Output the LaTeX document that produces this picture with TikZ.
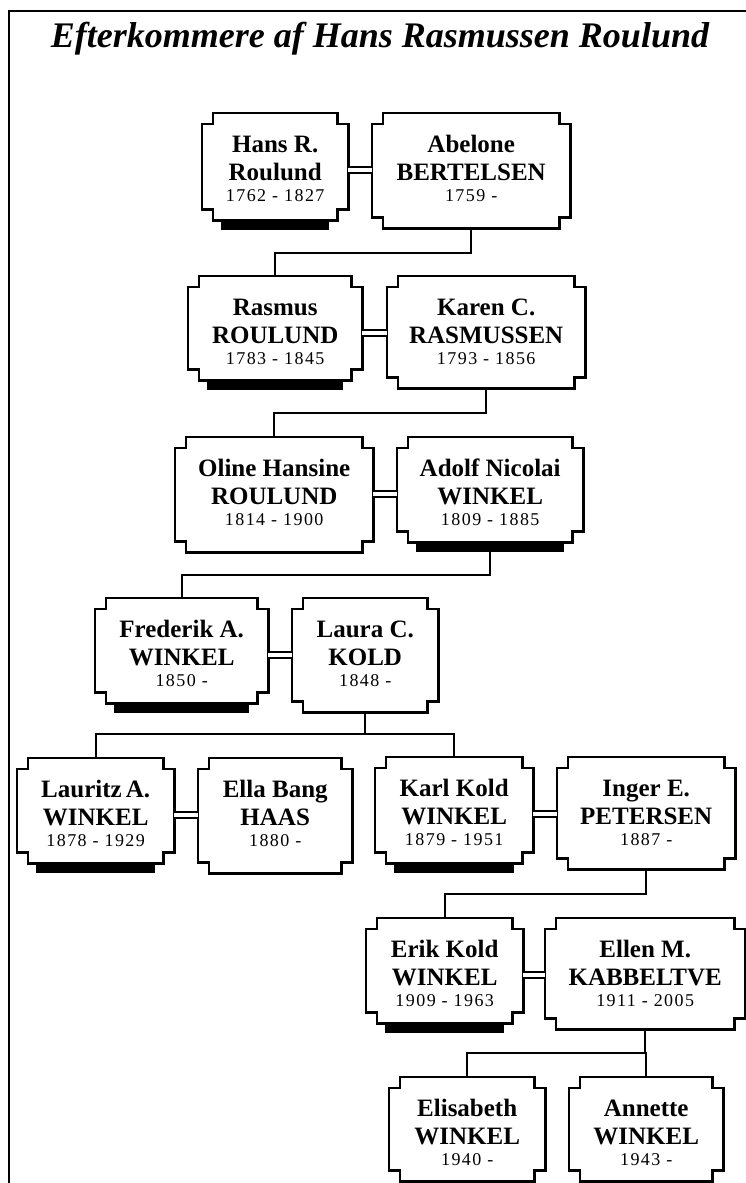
\documentclass[tikz,border=0pt]{standalone}
\usepackage{fontspec}
\usepackage{tikz}
\usetikzlibrary{calc}
\setmainfont{Liberation Serif}
\newfontfamily\yrfam[LetterSpace=8]{Liberation Serif}
\newcommand{\nm}{\fontsize{25}{28}\selectfont\bfseries}
\newcommand{\yr}{\yrfam\mdseries\fontsize{18}{21}\selectfont}

\begin{document}
\begin{tikzpicture}[x=1pt,y=-1pt,
	person/.style={shape=rectangle,inner sep=0pt,anchor=north west,align=center,font=\nm,text height=88pt},
	outline/.style={line width=2.2pt,line join=miter},
	link/.style={line width=2pt},
	wed/.style={double,double distance=4.2pt,line width=1.6pt}]
	\useasboundingbox (0,0) rectangle (745,1183);

	% frame and title
	\draw[line width=2pt] (752,11) -- (9,11) -- (9,1190);
	\node[anchor=base,font=\bfseries\itshape\fontsize{36}{40}\selectfont] (title) at (380,47) {Efterkommere af Hans Rasmussen Roulund};

	% persons
	\node[person,minimum width=146pt,text depth=19pt] (hans) at (202,113) {Hans R.\\ Roulund\\[-7pt] \yr 1762 - 1827};
	\node[person,minimum width=198pt,text depth=27pt] (abelone) at (372,113) {Abelone\\ BERTELSEN\\[-7pt] \yr 1759 -};
	\node[person,minimum width=174pt,text depth=16pt] (rasmus) at (188,276) {Rasmus\\ ROULUND\\[-7pt] \yr 1783 - 1845};
	\node[person,minimum width=198pt,text depth=24pt] (karen) at (387,276) {Karen C.\\ RASMUSSEN\\[-7pt] \yr 1793 - 1856};
	\node[person,minimum width=198pt,text depth=27pt] (oline) at (175,437) {Oline Hansine\\ ROULUND\\[-7pt] \yr 1814 - 1900};
	\node[person,minimum width=186pt,text depth=17pt] (adolf) at (397,437) {Adolf Nicolai\\ WINKEL\\[-7pt] \yr 1809 - 1885};
	\node[person,minimum width=173pt,text depth=17pt] (frederik) at (95,598) {Frederik A.\\ WINKEL\\[-7pt] \yr 1850 -};
	\node[person,minimum width=146pt,text depth=26pt] (laura) at (292,598) {Laura C.\\ KOLD\\[-7pt] \yr 1848 -};
	\node[person,minimum width=157pt,text depth=17pt] (lauritz) at (17,758) {Lauritz\,A.\\ WINKEL\\[-7pt] \yr 1878 - 1929};
	\node[person,minimum width=154pt,text depth=27pt] (ella) at (198,758) {Ella Bang\\ HAAS\\[-7pt] \yr 1880 -};
	\node[person,minimum width=158pt,text depth=18pt] (karl) at (375,757) {Karl Kold\\ WINKEL\\[-7pt] \yr 1879 - 1951};
	\node[person,minimum width=178pt,text depth=24pt] (inger) at (557,757) {Inger E.\\ PETERSEN\\[-7pt] \yr 1887 -};
	\node[person,minimum width=157pt,text depth=17pt] (erik) at (366,918) {Erik Kold\\ WINKEL\\[-7pt] \yr 1909 - 1963};
	\node[person,minimum width=200pt,text depth=23pt] (ellen) at (545,918) {Ellen M.\\ KABBELTVE\\[-7pt] \yr 1911 - 2005};
	\node[person,minimum width=156pt,text depth=16pt] (elisabeth) at (389,1077) {Elisabeth\\ WINKEL\\[-7pt] \yr 1940 -};
	\node[person,minimum width=154pt,text depth=16pt] (annette) at (569,1077) {Annette\\ WINKEL\\[-7pt] \yr 1943 -};

	% notched frames round the persons
	\foreach \n in {hans,abelone,rasmus,karen,oline,adolf,frederik,laura,lauritz,ella,karl,inger,erik,ellen,elisabeth,annette}
		\draw[outline] ($(\n.north west)+(0,11)$) -- ++(11,0) -- ++(0,-11) -- ($(\n.north east)+(-11,0)$) -- ++(0,11) -- ++(11,0)
			-- ($(\n.south east)+(0,-11)$) -- ++(-11,0) -- ++(0,11) -- ($(\n.south west)+(11,0)$) -- ++(0,-11) -- ++(-11,0) -- cycle;

	% black bars
	\foreach \n in {hans,rasmus,adolf,frederik,lauritz,karl,erik}
		\fill ($(\n.south west)+(19,0)$) rectangle ($(\n.south east)+(-19,10)$);

	% marriages
	\draw[wed] ([yshift=-57pt]hans.north east) -- ([yshift=-57pt]abelone.north west);
	\draw[wed] ([yshift=-57pt]rasmus.north east) -- ([yshift=-57pt]karen.north west);
	\draw[wed] ([yshift=-57pt]oline.north east) -- ([yshift=-57pt]adolf.north west);
	\draw[wed] ([yshift=-57pt]frederik.north east) -- ([yshift=-57pt]laura.north west);
	\draw[wed] ([yshift=-57pt]lauritz.north east) -- ([yshift=-57pt]ella.north west);
	\draw[wed] ([yshift=-57pt]karl.north east) -- ([yshift=-57pt]inger.north west);
	\draw[wed] ([yshift=-57pt]erik.north east) -- ([yshift=-57pt]ellen.north west);

	% children
	\draw[link] (abelone.south) -- ++(0,25) -| (rasmus.north);
	\draw[link] (karen.south) -- ++(0,25) -| (oline.north);
	\draw[link] (adolf.south) -- ++(0,33) -| (frederik.north);
	\draw[link] (laura.south) -- ++(0,22) coordinate (lj);
	\draw[link] (lj) -| (lauritz.north);
	\draw[link] (lj) -| (karl.north);
	\draw[link] (inger.south) -- ++(0,25) -| (erik.north);
	\draw[link] (ellen.south) -- ++(0,24) coordinate (ej);
	\draw[link] (ej) -| (elisabeth.north);
	\draw[link] (ej) -| (annette.north);
\end{tikzpicture}
\end{document}
